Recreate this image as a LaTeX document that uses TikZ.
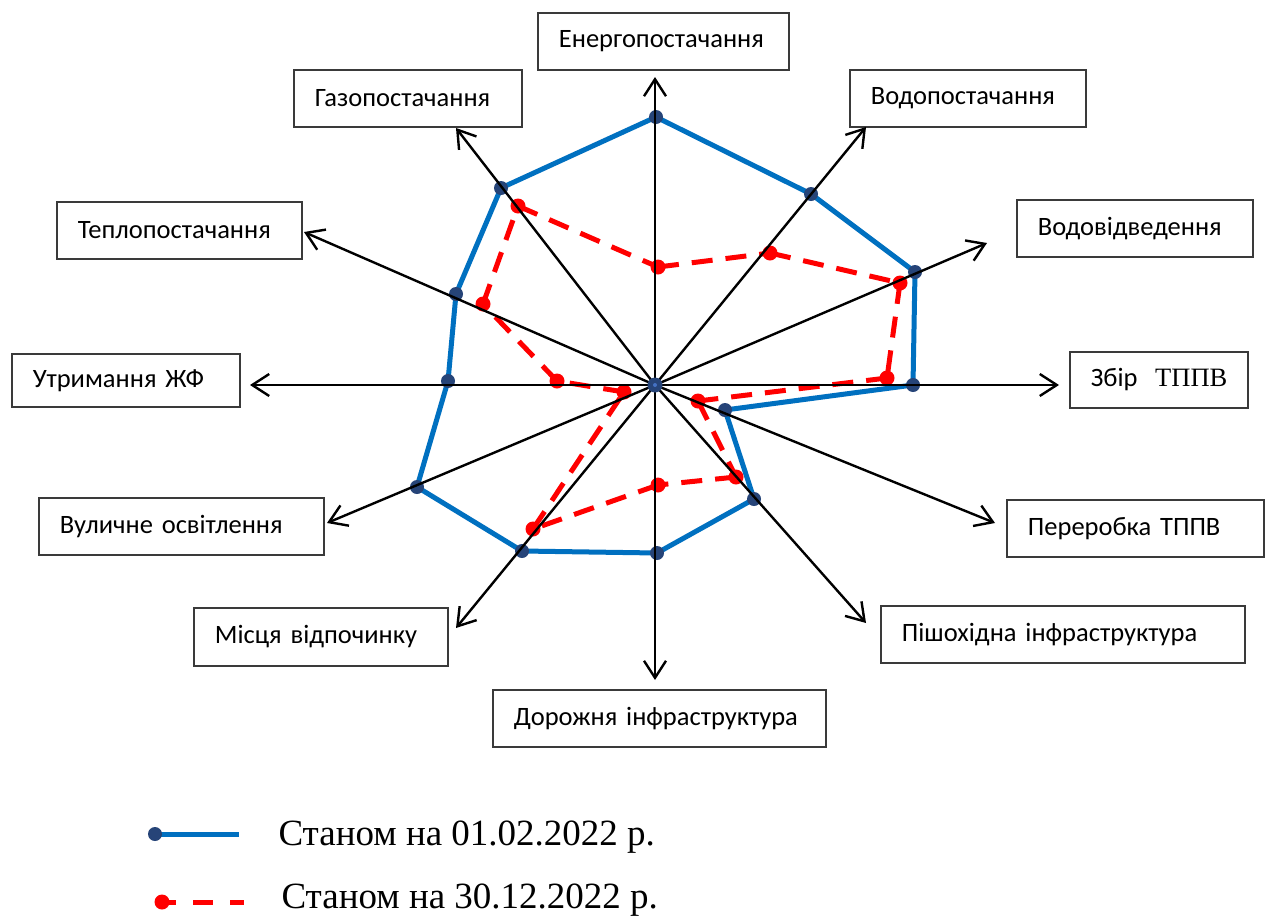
\documentclass[tikz,border=0pt]{standalone}
\usepackage{fontspec}
\setmainfont{Carlito}
\newfontfamily\timesfont{Liberation Serif}
\usetikzlibrary{arrows.meta}
\definecolor{serieblue}{HTML}{0070C0}
\definecolor{markerblue}{HTML}{264478}
\definecolor{centreblue}{HTML}{4472C4}
\definecolor{seriered}{HTML}{FF0000}
\definecolor{boxline}{HTML}{3A3A3A}

\begin{document}
\begin{tikzpicture}[x=1pt,y=-1pt,
  catbox/.style={draw=boxline, line width=1.8pt, fill=white, anchor=north west,
    inner xsep=21pt, inner ysep=0pt, minimum height=57pt, align=left,
    font=\fontsize{26.5}{30}\selectfont},
  axisarrow/.style={line width=2.4pt, -{Straight Barb[length=17pt,width=22pt,line width=2.4pt]}},
  bluelink/.style={serieblue, line width=5pt, line join=round},
  redlink/.style={seriered, line width=5pt, dash pattern=on 21pt off 13pt},
  bluedot/.style={circle, fill=markerblue, inner sep=0pt, minimum size=14pt},
  reddot/.style={circle, fill=seriered, inner sep=0pt, minimum size=15pt},
  legendtext/.style={anchor=base west, font=\timesfont\fontsize{37}{44}\selectfont},
]
\useasboundingbox (0,0) rectangle (1267,916);
\fill[white] (0,0) rectangle (1267,916);

% category boxes
\node[catbox, text width=209pt] (energy) at (537,12) {Енергопостачання};
\node[catbox, text width=186pt] (gas) at (293,69) {Газопостачання};
\node[catbox, text width=194pt] (watersup) at (849,69) {Водопостачання};
\node[catbox, text width=194pt] (waterdis) at (1016,199) {Водовідведення};
\node[catbox, text width=203pt] (heat) at (56,201) {Теплопостачання};
\node[catbox, text width=186pt, minimum height=53pt] (housing) at (11,353) {Утримання ЖФ};
\node[catbox, text width=136pt, minimum height=56pt] (collect) at (1069,351) {Збір~~{\timesfont ТППВ}};
\node[catbox, text width=215pt] (process) at (1006,499) {Переробка ТППВ};
\node[catbox, text width=243pt] (street) at (38,497) {Вуличне освітлення};
\node[catbox, text width=212pt, minimum height=58pt] (rest) at (193,607) {Місця відпочинку};
\node[catbox, text width=322pt] (pedestr) at (880,605) {Пішохідна інфраструктура};
\node[catbox, text width=291pt] (road) at (492,689) {Дорожня інфраструктура};

% axis centre and tips
\coordinate (C) at (655,385);
\coordinate (tE) at (655,77);
\coordinate (tWs) at (866,127);
\coordinate (tWd) at (987,243);
\coordinate (tCol) at (1059,385);
\coordinate (tPro) at (995,523);
\coordinate (tPed) at (866,623);
\coordinate (tRoad) at (655,680);
\coordinate (tRest) at (456,628);
\coordinate (tStr) at (327,523);
\coordinate (tHf) at (250,385);
\coordinate (tHeat) at (304,232);
\coordinate (tGas) at (456,128);

% values on 01.02.2022
\coordinate (b1) at (656,117);
\coordinate (b2) at (811,194);
\coordinate (b3) at (915,272);
\coordinate (b4) at (913,385);
\coordinate (b5) at (725,410);
\coordinate (b6) at (754,499);
\coordinate (b7) at (657,553);
\coordinate (b8) at (522,551);
\coordinate (b9) at (417,487);
\coordinate (b10) at (448,381);
\coordinate (b11) at (456,294);
\coordinate (b12) at (501,188);

% values on 30.12.2022
\coordinate (r1) at (658,267);
\coordinate (r2) at (770,253);
\coordinate (r3) at (900,283);
\coordinate (r4) at (887,378);
\coordinate (r5) at (698,401);
\coordinate (r6) at (736,477);
\coordinate (r7) at (658,485);
\coordinate (r8) at (533,529);
\coordinate (r9) at (624,392);
\coordinate (r10) at (557,381);
\coordinate (r11) at (483,304);
\coordinate (r12) at (518,206);

% first series
\draw[bluelink] (b1) -- (b2) -- (b3) -- (b4) -- (b5) -- (b6) -- (b7) -- (b8)
  -- (b9) -- (b10) -- (b11) -- (b12) -- cycle;
\foreach \i in {1,...,12} \node[bluedot] (bd\i) at (b\i) {};

% second series, each segment dashed from its own start
\foreach \i/\j in {1/2,2/3,3/4,4/5,5/6,6/7,7/8,8/9,9/10,10/11,11/12,12/1}
  \draw[redlink] (r\i) -- (r\j);
\foreach \i in {1,...,12} \node[reddot] (rd\i) at (r\i) {};

% axes
\foreach \t in {tE,tWs,tWd,tCol,tPro,tPed,tRoad,tRest,tStr,tHf,tHeat,tGas}
  \draw[axisarrow] (C) -- (\t);
\node[circle, fill=markerblue, inner sep=0pt, minimum size=15pt] (centre) at (C) {};
\node[circle, fill=centreblue, inner sep=0pt, minimum size=4pt] at (C) {};

% legend
\coordinate (lb1) at (155,834);
\coordinate (lb2) at (239,834);
\draw[bluelink] (lb1) -- (lb2);
\node[bluedot] (lbd) at (lb1) {};
\node[legendtext] (leg1) at (275,845) {Станом на 01.02.2022 р.};

\coordinate (lr1) at (162,902);
\coordinate (lr2) at (244,902);
\draw[redlink, dash pattern=on 20pt off 17pt, dash phase=6pt] (lr1) -- (lr2);
\node[reddot] (lrd) at (lr1) {};
\node[legendtext] (leg2) at (278,908) {Станом на 30.12.2022 р.};
\end{tikzpicture}
\end{document}
